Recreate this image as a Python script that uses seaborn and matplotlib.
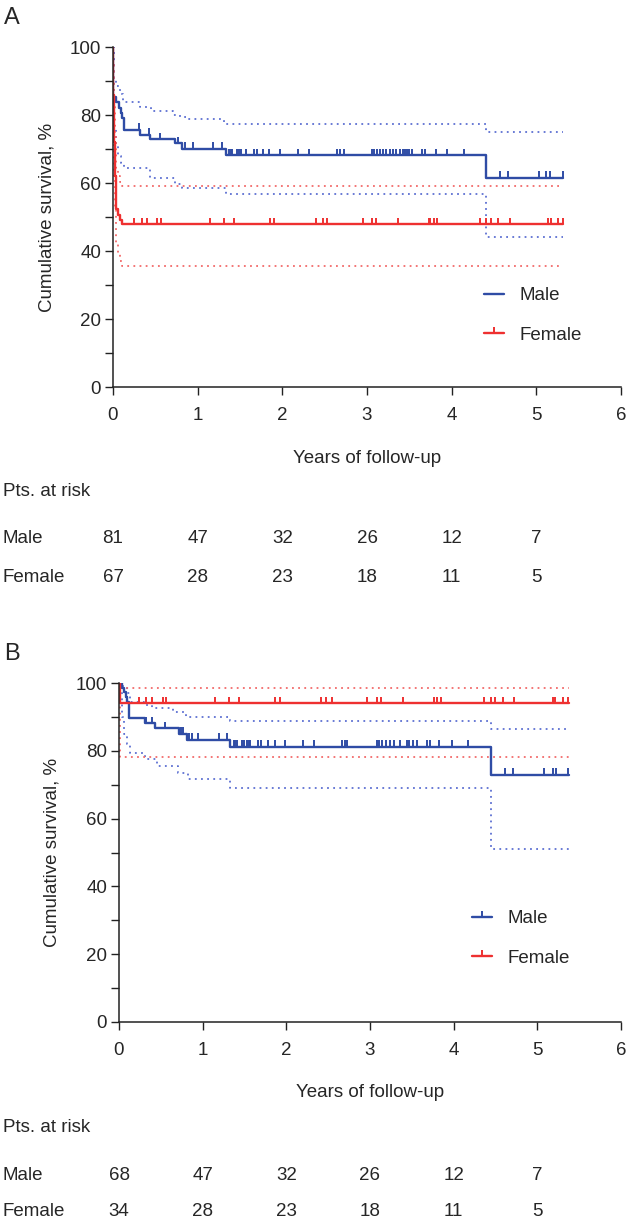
import numpy as np
import pandas as pd
import matplotlib
matplotlib.use("Agg")
import matplotlib.pyplot as plt
import matplotlib.transforms as mtransforms
from matplotlib.path import Path
from matplotlib.lines import Line2D
from matplotlib.ticker import MultipleLocator
import seaborn as sns

# ---------------- DATA ----------------
# Panel A
a_male_t = [0, 0.005, 0.04, 0.07, 0.09, 0.11, 0.13, 0.32, 0.44, 0.73, 0.81, 1.33, 4.41, 5.32]
a_male_s = [100, 85.4, 83.9, 82.0, 80.5, 79.0, 75.6, 74.1, 72.9, 71.7, 70.0, 68.2, 61.6, 61.6]
a_male_hi_t = [0, 0.01, 0.04, 0.08, 0.12, 0.32, 0.45, 0.71, 0.79, 0.87, 1.31, 4.41, 5.32]
a_male_hi = [100, 90.8, 88.5, 86.2, 83.9, 82.4, 81.2, 80.0, 79.3, 78.7, 77.3, 74.9, 74.9]
a_male_lo_t = [0, 0.01, 0.03, 0.06, 0.09, 0.13, 0.44, 0.73, 0.81, 1.33, 4.41, 5.32]
a_male_lo = [100, 76, 71, 68, 66, 64.5, 61.6, 59.7, 58.6, 56.7, 44.0, 44.0]
a_male_cens = [0.31, 0.42, 0.55, 0.77, 0.85, 0.95, 1.18, 1.29, 1.37, 1.39, 1.41, 1.46, 1.49,
               1.51, 1.57, 1.66, 1.70, 1.77, 1.84, 1.97, 2.19, 2.31, 2.64, 2.68, 2.73, 3.06,
               3.08, 3.12, 3.15, 3.19, 3.23, 3.27, 3.31, 3.34, 3.39, 3.42, 3.45, 3.47, 3.50,
               3.53, 3.65, 3.69, 3.81, 3.94, 4.14, 4.57, 4.66, 5.03, 5.12, 5.16, 5.32]

a_fem_t = [0, 0.005, 0.01, 0.02, 0.03, 0.04, 0.06, 0.08, 0.11, 5.32]
a_fem_s = [100, 85.9, 72, 62, 57.0, 52.5, 50.6, 49.1, 47.9, 47.9]
a_fem_hi = [100, 96, 85, 74, 68, 64.5, 62, 60.3, 59.2, 59.2]
a_fem_lo = [100, 75, 62, 52, 46, 42, 39, 37, 35.7, 35.7]
a_fem_cens = [0.25, 0.34, 0.40, 0.52, 0.57, 1.15, 1.31, 1.43, 1.85, 1.90, 2.40, 2.48, 2.53,
              2.95, 3.06, 3.11, 3.37, 3.73, 3.75, 3.79, 3.83, 4.33, 4.40, 4.46, 4.55, 4.69,
              5.14, 5.17, 5.26, 5.32]

# Panel B
b_male_t = [0, 0.04, 0.06, 0.08, 0.10, 0.12, 0.31, 0.43, 0.72, 0.81, 1.33, 4.45, 5.38]
b_male_s = [100, 98.4, 97.4, 96.0, 94.5, 89.6, 88.1, 86.6, 85.0, 83.2, 81.2, 72.9, 72.9]
b_male_hi_t = [0, 0.05, 0.09, 0.13, 0.30, 0.40, 0.65, 0.80, 0.86, 1.33, 4.45, 5.38]
b_male_hi = [100, 98.9, 97.0, 94.5, 93.5, 92.5, 91.5, 90.1, 90.1, 88.9, 86.3, 86.3]
b_male_lo_t = [0, 0.03, 0.06, 0.09, 0.13, 0.31, 0.45, 0.70, 0.83, 1.33, 4.45, 5.38]
b_male_lo = [100, 90, 85, 82, 79.3, 77.5, 75.5, 73.5, 71.6, 69.1, 50.9, 50.9]
b_male_cens = [0.32, 0.40, 0.55, 0.74, 0.76, 0.84, 0.87, 0.94, 1.19, 1.29, 1.38, 1.39, 1.41,
               1.47, 1.49, 1.53, 1.55, 1.57, 1.66, 1.70, 1.78, 1.86, 1.98, 2.20, 2.33, 2.66,
               2.70, 2.73, 3.08, 3.11, 3.14, 3.19, 3.24, 3.29, 3.36, 3.44, 3.47, 3.51, 3.56,
               3.68, 3.72, 3.83, 3.98, 4.17, 4.61, 4.71, 5.08, 5.19, 5.22, 5.37]

b_fem_t = [0, 0.01, 5.38]
b_fem_s = [100, 94.0, 94.0]
b_fem_hi = [100, 98.4, 98.4]
b_fem_lo = [100, 78.3, 78.3]
b_fem_cens = [0.24, 0.32, 0.40, 0.52, 0.56, 1.15, 1.31, 1.43, 1.86, 1.92, 2.42, 2.48, 2.55,
              2.97, 3.08, 3.13, 3.39, 3.76, 3.80, 3.85, 4.36, 4.45, 4.49, 4.59, 4.72, 5.19,
              5.21, 5.31, 5.37]

risk_years = [0, 1, 2, 3, 4, 5]
a_risk_male = [81, 47, 32, 26, 12, 7]
a_risk_female = [67, 28, 23, 18, 11, 5]
b_risk_male = [68, 47, 32, 26, 12, 7]
b_risk_female = [34, 28, 23, 18, 11, 5]

group_labels = ["Male", "Female"]

# ---------------- STYLE ----------------
sns.set_style("ticks")
plt.rcParams["font.family"] = ["Liberation Sans", "DejaVu Sans"]
FS = 13.5

BLUE = "#2F4CA5"
RED = "#EE3030"
BLUE_CI = "#5D70D2"
RED_CI = "#F26A6A"
DOT = (0, (1, 2.4))

W, H = 629, 1221
fig = plt.figure(figsize=(W / 100, H / 100), dpi=100)

tick_path = Path([(0, 0), (0, 1)])


def fy(py):
    return 1 - py / H


def step_vals(t, s, c):
    t = np.asarray(t)
    s = np.asarray(s)
    idx = np.searchsorted(t, np.asarray(c), side="right") - 1
    return s[np.clip(idx, 0, len(s) - 1)]


def draw_panel(ax, groups, legend_marker, leg_anchor):
    for (t, s, ht, hi, lt, lo, cens, col, ccol) in groups:
        sns.lineplot(x=ht, y=hi, ax=ax, color=ccol, drawstyle="steps-post",
                     linestyle=DOT, lw=1.3, estimator=None, sort=False, legend=False)
        sns.lineplot(x=lt, y=lo, ax=ax, color=ccol, drawstyle="steps-post",
                     linestyle=DOT, lw=1.3, estimator=None, sort=False, legend=False)
    for (t, s, ht, hi, lt, lo, cens, col, ccol) in groups:
        sns.lineplot(x=t, y=s, ax=ax, color=col, drawstyle="steps-post", lw=1.7,
                     estimator=None, sort=False, legend=False)
        sns.scatterplot(x=cens, y=step_vals(t, s, cens), ax=ax, marker=tick_path,
                        s=90, facecolor="none", edgecolor=col, linewidth=1.4,
                        legend=False, zorder=5)
    ax.set_xlim(0, 6)
    ax.set_ylim(0, 100)
    ax.xaxis.set_major_locator(MultipleLocator(1))
    ax.yaxis.set_major_locator(MultipleLocator(20))
    ax.yaxis.set_minor_locator(MultipleLocator(10))
    ax.tick_params(axis="both", which="both", direction="out", length=5.5, width=1.0,
                   color="#222222", labelsize=FS)
    ax.tick_params(axis="x", pad=9)
    ax.tick_params(axis="y", pad=3)
    for sp in ["top", "right"]:
        ax.spines[sp].set_visible(False)
    for sp in ["left", "bottom"]:
        ax.spines[sp].set_linewidth(1.1)
        ax.spines[sp].set_color("#222222")
    ax.set_xlabel("Years of follow-up", fontsize=FS)
    ax.xaxis.label.set_va("center")
    ax.xaxis.set_label_coords(0.5, -0.209)
    ax.set_ylabel("Cumulative survival, %", fontsize=FS)
    ax.yaxis.label.set_va("center")

    handles = []
    for (g, col, mk) in zip(group_labels, [groups[0][7], groups[1][7]], legend_marker):
        if mk:
            handles.append(Line2D([0], [0], color=col, lw=1.7, marker=tick_path,
                                  markersize=9, markeredgewidth=1.4))
        else:
            handles.append(Line2D([0], [0], color=col, lw=1.7))
    ax.legend(handles, group_labels, loc="upper left", frameon=False, fontsize=FS,
              bbox_to_anchor=leg_anchor, bbox_transform=fig.transFigure,
              borderpad=0, borderaxespad=0, handlelength=1.05, handletextpad=0.85,
              labelspacing=1.2)


# Panel A
axA = fig.add_axes([113 / W, fy(387), 508 / W, 340 / H])
draw_panel(axA,
           [(a_male_t, a_male_s, a_male_hi_t, a_male_hi, a_male_lo_t, a_male_lo, a_male_cens, BLUE, BLUE_CI),
            (a_fem_t, a_fem_s, a_fem_t, a_fem_hi, a_fem_t, a_fem_lo, a_fem_cens, RED, RED_CI)],
           [False, True], (484 / W, fy(287)))
axA.yaxis.set_label_coords(-0.130, 0.5)

# Panel B
axB = fig.add_axes([119 / W, fy(1022), 502 / W, 339 / H])
draw_panel(axB,
           [(b_male_t, b_male_s, b_male_hi_t, b_male_hi, b_male_lo_t, b_male_lo, b_male_cens, BLUE, BLUE_CI),
            (b_fem_t, b_fem_s, b_fem_t, b_fem_hi, b_fem_t, b_fem_lo, b_fem_cens, RED, RED_CI)],
           [True, True], (472 / W, fy(910)))
axB.yaxis.set_label_coords(-0.133, 0.5)

# Panel letters
fig.text(4 / W, fy(18), "A", fontsize=17, va="center", ha="left")
fig.text(4 / W, fy(654), "B", fontsize=17, va="center", ha="left")


# Number-at-risk tables
def risk_table(ax, y_title, y_male, y_fem, male_vals, fem_vals):
    tr = mtransforms.blended_transform_factory(ax.transData, fig.transFigure)
    fig.text(3 / W, fy(y_title), "Pts. at risk", fontsize=FS, va="center", ha="left")
    fig.text(3 / W, fy(y_male), group_labels[0], fontsize=FS, va="center", ha="left")
    fig.text(3 / W, fy(y_fem), group_labels[1], fontsize=FS, va="center", ha="left")
    for yr, m, f in zip(risk_years, male_vals, fem_vals):
        fig.text(yr, fy(y_male), str(m), transform=tr, fontsize=FS, va="center", ha="center")
        fig.text(yr, fy(y_fem), str(f), transform=tr, fontsize=FS, va="center", ha="center")


risk_table(axA, 492, 539, 578, a_risk_male, a_risk_female)
risk_table(axB, 1128, 1175, 1212, b_risk_male, b_risk_female)

fig.savefig("out.png", dpi=100)
